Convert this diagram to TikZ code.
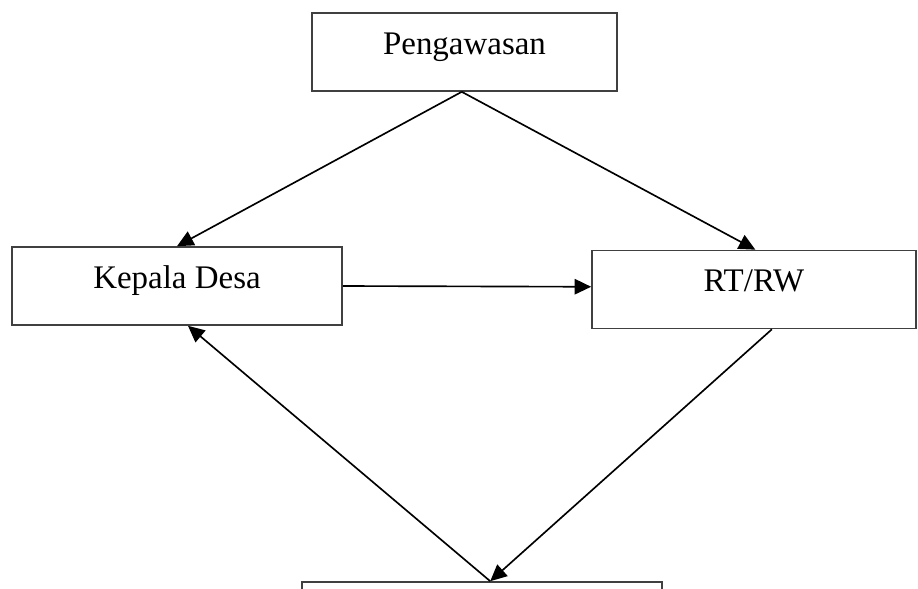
\documentclass[tikz,border=0pt]{standalone}
\usepackage{fontspec}
\setmainfont{Liberation Serif}
\usepackage{tikz}
\usetikzlibrary{arrows.meta}

\begin{document}
\begin{tikzpicture}[x=0.0128cm, y=-0.0128cm,
    box/.style={draw=black!75, line width=0.6pt, rectangle, inner sep=0pt, text height=15pt, text depth=13.4pt, font=\fontsize{12}{14}\selectfont},
    flow/.style={-{Triangle[length=6pt, width=5.6pt]}, line width=0.6pt}]
    \useasboundingbox (0,0) rectangle (918,589);
    \clip (0,0) rectangle (918,589);
    \node [box, minimum width=305*0.0128cm] (peng) at (464.5,52) {Pengawasan};
    \node [box, minimum width=330*0.0128cm] (kades) at (177,286) {Kepala Desa};
    \node [box, minimum width=324*0.0128cm] (rtrw) at (754,289.5) {RT/RW};
    \node [box, minimum width=360*0.0128cm] (warga) at (482,621) {};

    \draw [flow] ([xshift=-1pt]peng.south) -- (kades.north);
    \draw [flow] ([xshift=-1pt]peng.south) -- ([xshift=0.5pt]rtrw.north);
    \draw [flow] (kades.east) -- ([yshift=1pt]rtrw.west);
    \draw [flow] ([xshift=6.5pt]rtrw.south) -- ([xshift=3pt]warga.north);
    \draw [flow] ([xshift=3pt]warga.north) -- ([xshift=4pt]kades.south);
\end{tikzpicture}
\end{document}
